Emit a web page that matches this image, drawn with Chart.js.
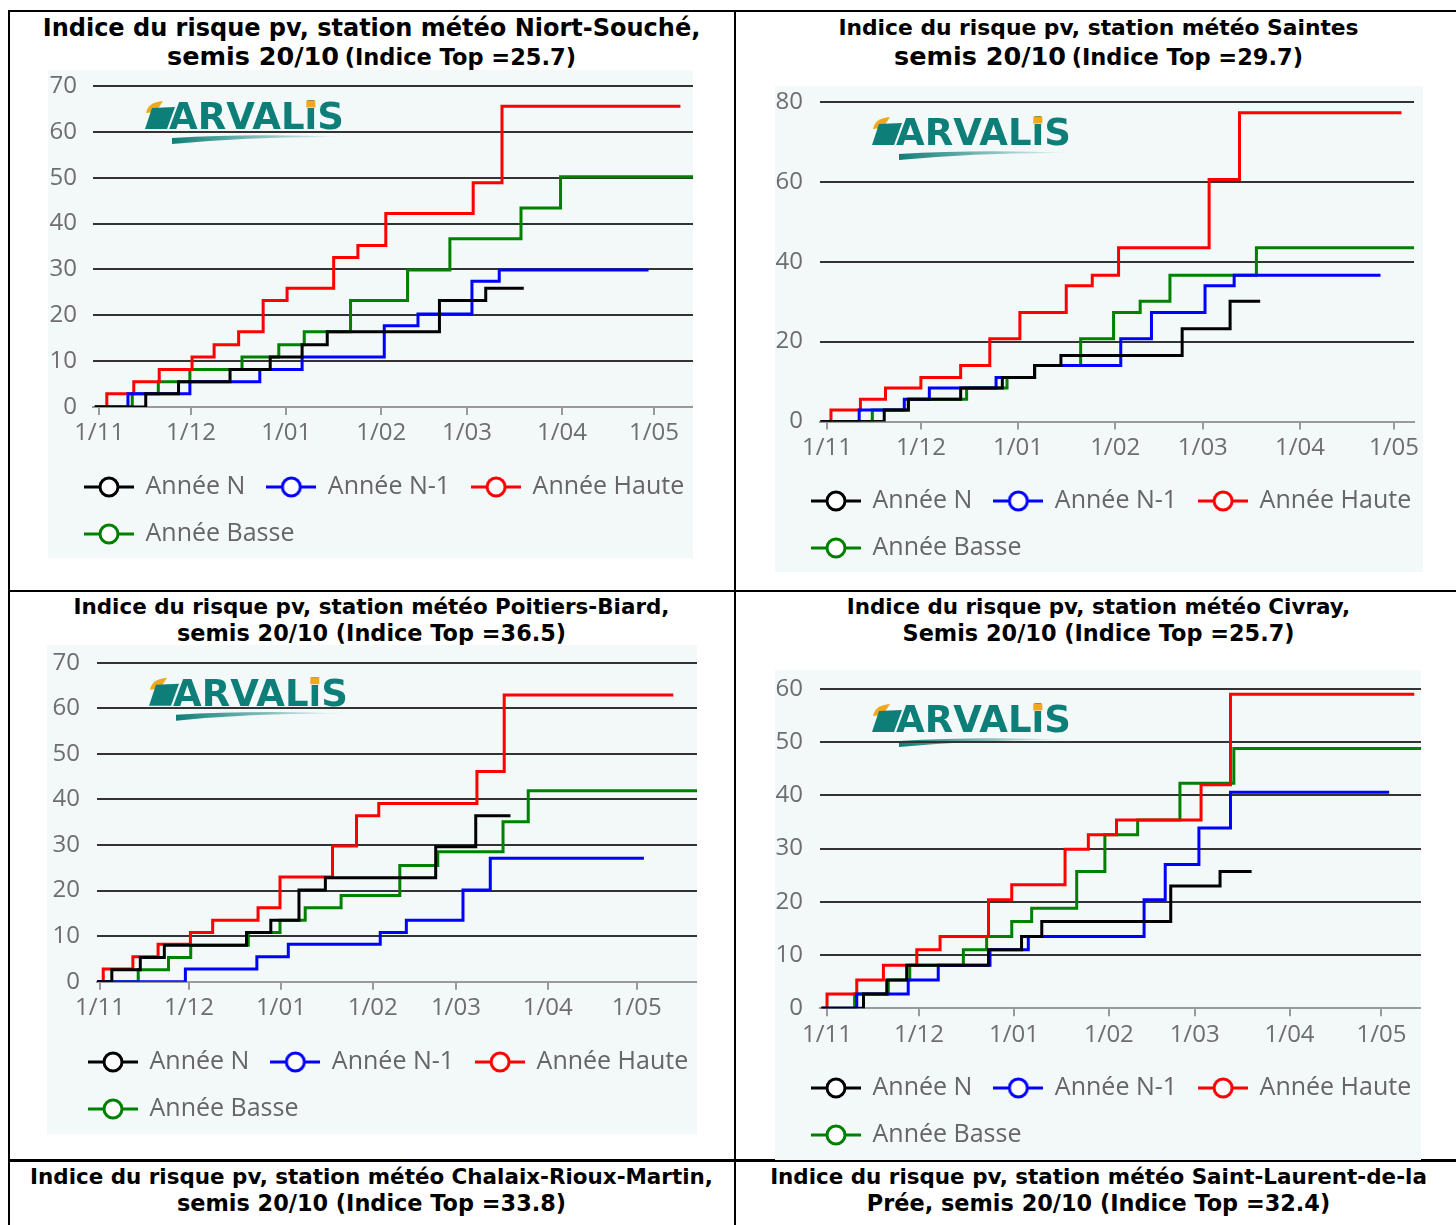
<!DOCTYPE html>
<html lang="fr">
<head>
<meta charset="utf-8">
<title>Indice du risque pv</title>
<script src="https://cdn.jsdelivr.net/npm/chart.js@4.4.1/dist/chart.umd.min.js"></script>
<style>
  html, body { margin: 0; padding: 0; background: #fff; }
  body { position: relative; width: 1456px; height: 1225px; overflow: hidden; font-family: "DejaVu Sans", Verdana, sans-serif; }
  .rule { position: absolute; background: #000; }
  .title { position: absolute; text-align: center; font-weight: bold; color: #000; white-space: nowrap; }
  .title .l1 { font-size: 21.45px; }
  .title .l2 { font-size: 22.4px; }
  .panel { position: absolute; background: #f3f8f8; }
</style>
</head>
<body>

<div class="rule" style="left:8px;top:10px;width:1448px;height:2px"></div>
<div class="rule" style="left:8px;top:10px;width:2px;height:1215px"></div>
<div class="rule" style="left:734px;top:10px;width:2px;height:1215px"></div>
<div class="rule" style="left:8px;top:590px;width:1448px;height:2px"></div>
<div class="rule" style="left:8px;top:1159px;width:1448px;height:3px"></div>

<div class="title" style="left:8px;top:14px;width:727px;line-height:28px">
  <div style="font-size:24px">Indice du risque pv, station météo Niort-Souché,</div>
  <div><span style="font-size:25.5px">semis 20/10</span> <span style="font-size:22.5px">(Indice Top =25.7)</span></div>
</div>
<div class="title" style="left:735px;top:14px;width:727px;line-height:28px">
  <div style="font-size:21.8px">Indice du risque pv, station météo Saintes</div>
  <div><span style="font-size:25.5px">semis 20/10</span> <span style="font-size:22.5px">(Indice Top =29.7)</span></div>
</div>
<div class="title" style="left:8px;top:594px;width:727px;line-height:26px">
  <div class="l1">Indice du risque pv, station météo Poitiers-Biard,</div>
  <div class="l2">semis 20/10 (Indice Top =36.5)</div>
</div>
<div class="title" style="left:735px;top:594px;width:727px;line-height:26px">
  <div class="l1">Indice du risque pv, station météo Civray,</div>
  <div class="l2">Semis 20/10 (Indice Top =25.7)</div>
</div>
<div class="title" style="left:8px;top:1164px;width:727px;line-height:26px">
  <div class="l1">Indice du risque pv, station météo Chalaix-Rioux-Martin,</div>
  <div class="l2">semis 20/10 (Indice Top =33.8)</div>
</div>
<div class="title" style="left:735px;top:1164px;width:727px;line-height:26px">
  <div class="l1">Indice du risque pv, station météo Saint-Laurent-de-la</div>
  <div class="l2">Prée, semis 20/10 (Indice Top =32.4)</div>
</div>

<div class="panel" style="left:48px;top:70px;width:645px;height:488px"><canvas id="niort"></canvas></div>
<div class="panel" style="left:775px;top:86px;width:648px;height:486px"><canvas id="saintes"></canvas></div>
<div class="panel" style="left:47px;top:645px;width:650px;height:489px"><canvas id="poitiers"></canvas></div>
<div class="panel" style="left:775px;top:670px;width:646px;height:490px"><canvas id="civray"></canvas></div>

<script>
// jours comptés depuis le 1/11
var monthTicks  = [0, 30, 61, 92, 120, 151, 181];
var monthLabels = ['1/11', '1/12', '1/01', '1/02', '1/03', '1/04', '1/05'];
var seriesNames  = ['Année N', 'Année N-1', 'Année Haute', 'Année Basse'];
var seriesColors = ['#000000', '#0000ff', '#ff0000', '#008000'];

// Niort-Souché : [jour, indice]
var niortN     = [[-1.4,0],[15.2,2.9],[25.9,5.5],[42.7,8.2],[55.8,10.9],[66.2,13.6],[74.4,16.4],[111,23.2],[126.1,25.9],[138.5,25.9]];
var niortN1    = [[-1.4,0],[9.4,2.9],[29.6,5.5],[52.4,8.2],[66.2,10.9],[93,17.7],[104,20.3],[121.6,27.4],[130.5,29.9],[179.2,29.9]];
var niortHaute = [[-1.4,0],[2.5,2.9],[11.3,5.5],[19.6,8.2],[30.3,10.9],[37.5,13.6],[45.5,16.4],[53.5,23.2],[61.3,25.9],[76.5,32.6],[84.4,35.2],[93.5,42.2],[122,48.9],[131.4,65.6],[189.6,65.6]];
var niortBasse = [[-1.4,0],[10.8,2.9],[19.3,5.5],[29.6,8.2],[46.6,10.9],[58.6,13.6],[66.9,16.4],[82,23.2],[100.6,29.9],[114.4,36.7],[137.6,43.4],[150.5,50.2],[193.7,50.2]];

// Saintes
var saintesN     = [[-2,0],[18.3,2.9],[26,5.6],[42.7,8.4],[56,11],[66.3,14],[74.7,16.5],[113.4,23.2],[128.7,30.1],[138.3,30.1]];
var saintesN1    = [[-2,0],[10.3,2.9],[24.7,5.6],[32.7,8.4],[54,11],[66.3,14],[93.8,20.7],[103.6,27.3],[120.7,34],[130,36.6],[176.7,36.6]];
var saintesHaute = [[-2,0],[1.3,2.9],[10.7,5.6],[18.7,8.4],[30,11],[42.7,14],[52,20.7],[61.6,27.3],[76.4,34],[84.7,36.6],[93.1,43.5],[122,60.6],[131.7,77.3],[183.4,77.3]];
var saintesBasse = [[-2,0],[14.5,2.9],[26,5.6],[44.6,8.4],[57.5,11],[66.3,14],[81,20.7],[91.5,27.3],[100,30.1],[109.5,36.6],[137.1,43.5],[187.4,43.5]];

// Poitiers-Biard
var poitiersN     = [[-1,0],[4,2.6],[13.6,5.3],[21.7,8],[49.4,10.8],[57.6,13.5],[67.1,20.1],[76,22.8],[113.2,29.6],[126.7,36.4],[138.4,36.4]];
var poitiersN1    = [[-1,0],[28.8,2.8],[52.9,5.5],[63.5,8.2],[94.5,10.8],[103.3,13.5],[122.4,20.1],[131.6,27.1],[183.4,27.1]];
var poitiersHaute = [[-1,0],[1.1,2.8],[11.1,5.5],[19.6,8.2],[30.5,10.8],[38,13.5],[53.3,16.2],[60.7,23],[78.4,29.8],[86.5,36.4],[94,39.1],[127.1,46.1],[136.3,62.9],[193.3,62.9]];
var poitiersBasse = [[-1,0],[12.9,2.6],[23.1,5.3],[30.6,8],[50,10.8],[60.7,13.5],[69.2,16.2],[81.3,18.9],[101.1,25.5],[113.9,28.5],[135.9,35.1],[144.4,41.9],[201.3,41.9]];

// Civray
var civrayN     = [[-1.8,0],[11.9,2.7],[19.5,5.3],[26,8.1],[52.7,11],[63.5,13.5],[70.1,16.3],[112.2,23],[128.3,25.7],[138.6,25.7]];
var civrayN1    = [[-1.8,0],[9.7,2.7],[26.5,5.3],[36.3,8.1],[53.2,11],[65.7,13.5],[103.5,20.4],[110.4,27],[121.4,33.9],[131.7,40.6],[183.5,40.6]];
var civrayHaute = [[-1.8,0],[0,2.7],[9.7,5.3],[18.4,8.1],[29.3,11],[36.9,13.5],[52.7,20.4],[60.3,23.2],[77.7,29.9],[85.3,32.6],[94.5,35.4],[122.1,42],[131.7,59],[191.7,59]];
var civrayBasse = [[-1.8,0],[9,2.7],[20,5.3],[27,8.1],[44.5,11],[52.1,13.5],[60.3,16.3],[66.8,18.8],[81.5,25.7],[90.7,32.6],[101.4,35.4],[115.2,42.3],[132.8,48.8],[193.9,48.8]];

var tickFont = { family: 'Open Sans', size: 24 };
var tickColor = '#6e6e6e';

function makeMarker(color) {
    var c = document.createElement('canvas');
    c.width = 50; c.height = 24;
    var g = c.getContext('2d');
    g.strokeStyle = color;
    g.lineWidth = 3;
    g.beginPath(); g.moveTo(0, 12); g.lineTo(50, 12); g.stroke();
    g.fillStyle = '#ffffff';
    g.beginPath(); g.arc(25, 12, 9, 0, Math.PI * 2); g.fill(); g.stroke();
    return c;
}
var markers = seriesColors.map(makeMarker);

function drawLogo(ctx, x, base) {
    ctx.save();
    // feuille
    ctx.fillStyle = '#f2a81d';
    ctx.beginPath();
    ctx.moveTo(x + 1, base - 16);
    ctx.quadraticCurveTo(x + 3, base - 27, x + 18, base - 28);
    ctx.lineTo(x + 11, base - 17);
    ctx.closePath();
    ctx.fill();
    ctx.fillStyle = '#0e7f78';
    ctx.beginPath();
    ctx.moveTo(x + 7, base - 21);
    ctx.lineTo(x + 30, base - 22);
    ctx.lineTo(x + 22, base);
    ctx.lineTo(x, base);
    ctx.closePath();
    ctx.fill();
    // texte
    ctx.font = 'bold 37px "DejaVu Sans"';
    ctx.textBaseline = 'alphabetic';
    ctx.textAlign = 'left';
    ctx.fillText('ARVALiS', x + 24, base);
    var xi = x + 24 + ctx.measureText('ARVAL').width;
    var wi = ctx.measureText('i').width;
    ctx.fillStyle = '#f2a81d';
    ctx.fillRect(xi + wi / 2 - 4.5, base - 28.5, 9, 7);
    // trait
    var grad = ctx.createLinearGradient(x + 27, 0, x + 200, 0);
    grad.addColorStop(0, 'rgba(14,127,120,1)');
    grad.addColorStop(1, 'rgba(14,127,120,0)');
    ctx.fillStyle = grad;
    ctx.beginPath();
    ctx.moveTo(x + 27, base + 9);
    ctx.quadraticCurveTo(x + 110, base + 4, x + 200, base + 8);
    ctx.quadraticCurveTo(x + 110, base + 7, x + 27, base + 15);
    ctx.closePath();
    ctx.fill();
    ctx.restore();
}

function makeChart(id, series, scale, box) {
    var datasets = series.map(function (pts, i) {
        return {
            label: seriesNames[i],
            data: pts.map(function (p) { return { x: p[0], y: p[1] }; }),
            borderColor: seriesColors[i],
            backgroundColor: seriesColors[i],
            borderWidth: 3,
            stepped: true,
            pointRadius: 0,
            fill: false
        };
    });

    var panelPlugin = {
        id: 'panel',
        beforeDraw: function (chart) {
            var a = chart.chartArea;
            drawLogo(chart.ctx, a.left + 52, a.top + 43);
        },
        afterLayout: function (chart) {
            // décale la légende et garde la 3e entrée sur la première ligne
            chart.legend.left += box.legendX;
            chart.legend.right += 40;
        }
    };

    return new Chart(document.getElementById(id), {
        type: 'line',
        data: { datasets: datasets },
        plugins: [panelPlugin],
        options: {
            responsive: true,
            maintainAspectRatio: false,
            animation: false,
            layout: { padding: { left: 0, top: box.padT, right: box.padR, bottom: box.padB } },
            plugins: {
                tooltip: { enabled: false },
                legend: {
                    position: 'bottom',
                    align: 'start',
                    labels: {
                        usePointStyle: true,
                        pointStyleWidth: 48,
                        padding: 22,
                        color: '#666666',
                        font: { family: 'Open Sans', size: 25, lineHeight: 1 },
                        generateLabels: function (chart) {
                            var items = Chart.defaults.plugins.legend.labels.generateLabels(chart);
                            items.forEach(function (it) { it.pointStyle = markers[it.datasetIndex]; });
                            return items;
                        }
                    }
                }
            },
            scales: {
                x: {
                    type: 'linear',
                    min: scale.xMin,
                    max: scale.xMax,
                    afterBuildTicks: function (axis) {
                        axis.ticks = monthTicks.map(function (v) { return { value: v }; });
                    },
                    afterFit: function (axis) { axis.height = box.xH; },
                    ticks: {
                        autoSkip: false, maxRotation: 0, padding: 4,
                        color: tickColor, font: tickFont,
                        callback: function (v, i) { return monthLabels[i]; }
                    },
                    grid: { drawOnChartArea: false, drawTicks: true, tickLength: 8, color: '#9a9a9a', lineWidth: 2 },
                    border: { display: true, color: '#9a9a9a', width: 2 }
                },
                y: {
                    min: 0,
                    max: scale.yMax,
                    afterFit: function (axis) {
                        axis.width = box.yW;
                        axis.paddingTop = 0;
                        axis.paddingBottom = 0;
                    },
                    ticks: { stepSize: scale.yStep, padding: box.tickPad, color: tickColor, font: tickFont },
                    grid: {
                        drawTicks: false,
                        lineWidth: 2,
                        color: function (c) { return c.tick && c.tick.value === 0 ? '#9a9a9a' : '#333333'; }
                    },
                    border: { display: false }
                }
            }
        }
    });
}

makeChart('niort', [niortN, niortN1, niortHaute, niortBasse],
    { xMin: -2.0, xMax: 193.7, yMax: 70, yStep: 10 },
    { padT: 16, padR: 0, padB: 1.5, yW: 45, xH: 45.5, tickPad: 16, legendX: 15 });

makeChart('saintes', [saintesN, saintesN1, saintesHaute, saintesBasse],
    { xMin: -2.2, xMax: 187.4, yMax: 80, yStep: 20 },
    { padT: 16, padR: 2, padB: 1.5, yW: 45, xH: 45, tickPad: 17, legendX: 15 });

makeChart('poitiers', [poitiersN, poitiersN1, poitiersHaute, poitiersBasse],
    { xMin: -1.0, xMax: 201.3, yMax: 70, yStep: 10 },
    { padT: 17.7, padR: 0, padB: 2.5, yW: 50, xH: 45.8, tickPad: 17, legendX: 20 });

makeChart('civray', [civrayN, civrayN1, civrayHaute, civrayBasse],
    { xMin: -2.3, xMax: 193.9, yMax: 60, yStep: 10 },
    { padT: 19, padR: 0, padB: 2.5, yW: 45, xH: 45.2, tickPad: 17, legendX: 15 });
</script>
</body>
</html>
